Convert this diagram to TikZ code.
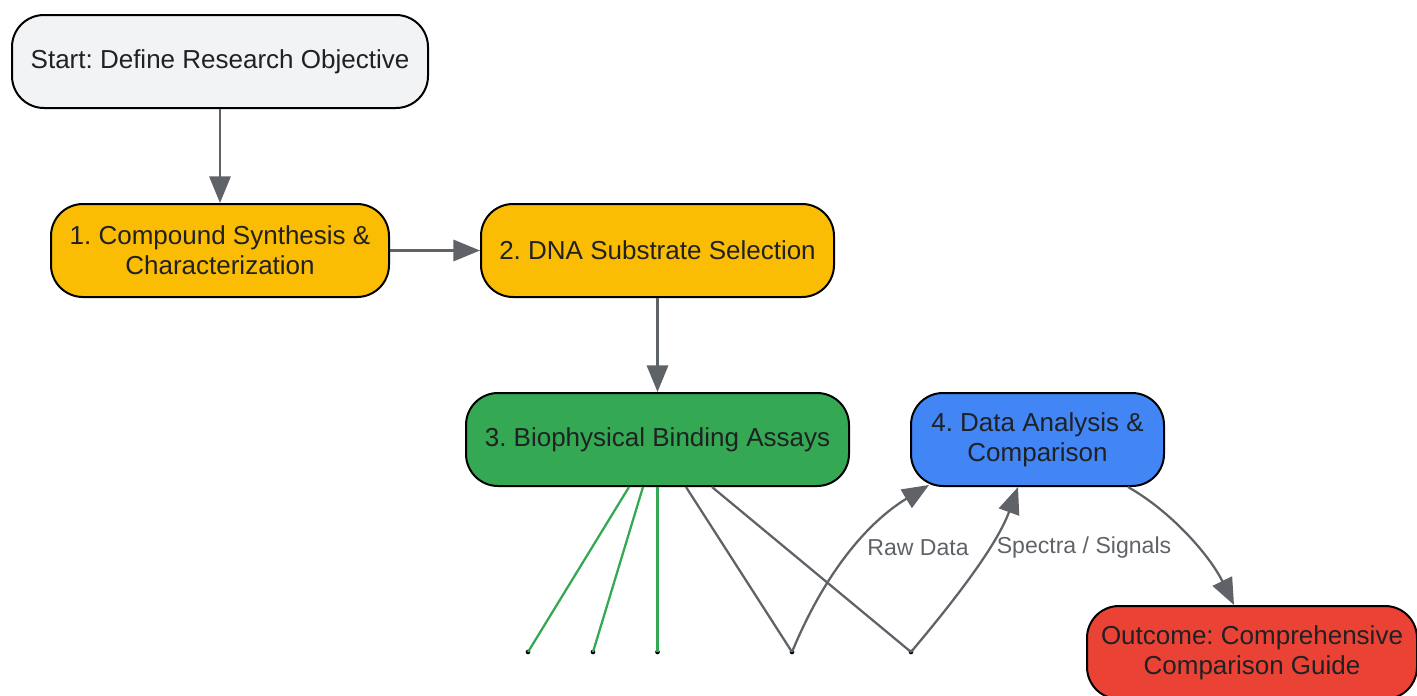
\documentclass[tikz,border=0pt]{standalone}
\usepackage{fontspec}
\setmainfont{Liberation Sans}
\usetikzlibrary{arrows.meta,calc}
\definecolor{cstart}{HTML}{F1F3F4}
\definecolor{cyellow}{HTML}{FBBC04}
\definecolor{cgreen}{HTML}{34A853}
\definecolor{cblue}{HTML}{4285F4}
\definecolor{cred}{HTML}{EA4335}
\definecolor{txt}{HTML}{202124}
\definecolor{edge}{HTML}{5F6368}
\frenchspacing
\begin{document}
\begin{tikzpicture}[x=0.75pt,y=-0.75pt,
  box/.style={draw=black,line width=1.5pt,rounded corners=24pt,inner sep=0pt,
    minimum height=69.75pt,align=center,text=txt,font=\fontsize{19.5}{22.5}\selectfont},
  conn/.style={draw=edge,line width=1.7pt},
  arr/.style={conn,-{Triangle[length=20pt,width=16pt]}},
  gline/.style={draw=cgreen,line width=1.7pt},
  lbl/.style={text=edge,font=\fontsize{17.3}{20}\selectfont,inner sep=0pt},
  dot/.style={circle,fill=black,inner sep=0pt,minimum size=3.5pt}
]
\useasboundingbox (0,0) rectangle (1417,696);
\clip (0,0) rectangle (1417,696);

\node[box,fill=cstart,minimum width=312pt] (b0) at (220,61.5) {Start: Define Research Objective};
\node[box,fill=cyellow,minimum width=253.5pt] (b1) at (220,250.5) {1. Compound Synthesis \&\\Characterization};
\node[box,fill=cyellow,minimum width=264.75pt] (b2) at (657.5,250.5) {2. DNA Substrate Selection};
\node[box,fill=cgreen,minimum width=287.25pt] (b3) at (657.5,439.5) {3. Biophysical Binding Assays};
\node[box,fill=cblue,minimum width=189.75pt] (b4) at (1037.5,439.5) {4. Data Analysis \&\\Comparison};
\node[box,fill=cred,minimum width=247.5pt] (b5) at (1252,652.5) {Outcome: Comprehensive\\Comparison Guide};

\node[dot] (d1) at (528,652) {};
\node[dot] (d2) at (593,652) {};
\node[dot] (d3) at (657.5,652) {};
\node[dot] (d4) at (792,652) {};
\node[dot] (d5) at (911,652) {};

\draw[arr] (b0) -- (b1);
\draw[arr] (b1) -- (b2);
\draw[arr] (b2) -- (b3);

\draw[gline] ($(b3.south)+(-28.5,0)$) -- (d1.center);
\draw[gline] ($(b3.south)+(-14.5,0)$) -- (d2.center);
\draw[gline] (b3.south) -- (d3.center);
\draw[conn] ($(b3.south)+(28.5,0)$) -- (d4.center);
\draw[conn] ($(b3.south)+(54.5,0)$) -- (d5.center);

\draw[arr] (d4.center) .. controls (825,572) and (868,522) .. ($(b4.south west)+(19,-2)$);
\draw[arr] (d5.center) .. controls (948,608) and (996,548) .. ($(b4.south)+(-19.5,0)$);
\draw[arr] ($(b4.south east)+(-37,0)$) .. controls (1172,512) and (1210,556) .. ($(b5.north)+(-18,0)$);

\node[lbl] (l1) at (918,548) {Raw Data};
\node[lbl] (l2) at (1084,548) {Spectra / Signals};
\end{tikzpicture}
\end{document}
